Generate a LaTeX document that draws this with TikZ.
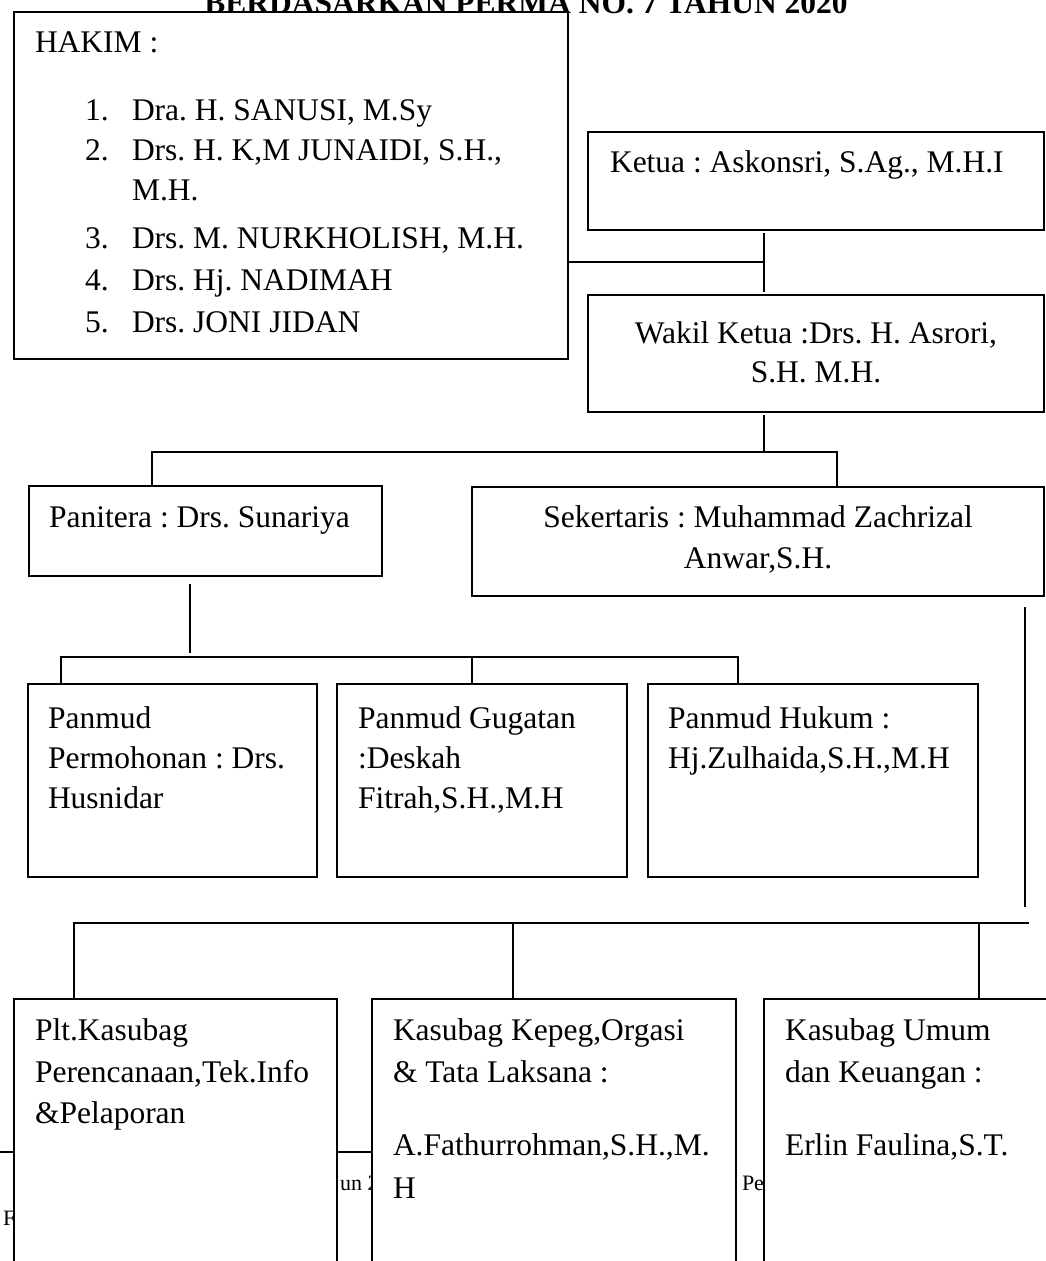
\documentclass[tikz,border=0pt]{standalone}
\usepackage{fontspec}
\setmainfont{Liberation Serif}
\frenchspacing
\newcommand\bodyfont{\fontsize{31.5}{38}\selectfont}
\newcommand\footfont{\fontsize{22}{26}\selectfont}
\begin{document}
\begin{tikzpicture}[x=1pt,y=-1pt,
  box/.style={draw, line width=1.6pt, fill=white, inner sep=0pt, outer sep=0pt, anchor=north west},
  conn/.style={line width=1.6pt},
  txt/.style={inner sep=0pt, outer sep=0pt, font=\bodyfont, anchor=base west},
  ctxt/.style={inner sep=0pt, outer sep=0pt, font=\bodyfont, anchor=base},
  foot/.style={inner sep=0pt, outer sep=0pt, font=\footfont, anchor=base west}]
\clip (0,0) rectangle (1046,1261);
\fill[white] (0,0) rectangle (1046,1261);
% title (partly cut off at the top, as in the reference)
\node[ctxt, font=\bodyfont\bfseries] (title) at (526,13) {BERDASARKAN PERMA NO. 7 TAHUN 2020};
% footer fragments behind the bottom boxes
\coordinate (fl1) at (0,1152);
\coordinate (fl2) at (420,1152);
\draw[line width=1.4pt] (fl1) -- (fl2);
\node[foot] (f1) at (340,1190) {un 2};
\node[foot] (f2) at (742,1190) {Pe};
\node[foot] (f3) at (3,1225) {F};
% boxes
\node[box, minimum width=554pt, minimum height=347pt] (hakim) at (14,12) {};
\node[box, minimum width=456pt, minimum height=98pt] (ketua) at (588,132) {};
\node[box, minimum width=456pt, minimum height=117pt] (wakil) at (588,295) {};
\node[box, minimum width=353pt, minimum height=90pt] (pan) at (29,486) {};
\node[box, minimum width=572pt, minimum height=109pt] (sek) at (472,487) {};
\node[box, minimum width=289pt, minimum height=193pt] (pm1) at (28,684) {};
\node[box, minimum width=290pt, minimum height=193pt] (pm2) at (337,684) {};
\node[box, minimum width=330pt, minimum height=193pt] (pm3) at (648,684) {};
\node[box, minimum width=323pt, minimum height=300pt] (b1) at (14,999) {};
\node[box, minimum width=364pt, minimum height=300pt] (b2) at (372,999) {};
\node[box, minimum width=320pt, minimum height=300pt] (b3) at (764,999) {};
% connectors
\coordinate (j1) at (764,262);
\draw[conn] (hakim.east |- j1) -- (j1);
\draw[conn, shorten <=3pt, shorten >=3pt] (ketua.south -| j1) -- (wakil.north -| j1);
\coordinate (j2) at (764,452);
\coordinate (c2a) at (152,452);
\coordinate (c2b) at (837,452);
\draw[conn, shorten <=3pt] (wakil.south -| j2) -- (j2);
\draw[conn] (pan.north -| c2a) -- (c2a) -- (c2b) -- (sek.north -| c2b);
\coordinate (c3) at (190,653);
\coordinate (c3a) at (61,657);
\coordinate (c3b) at (472,657);
\coordinate (c3c) at (738,657);
\draw[conn, shorten <=8pt] (pan.south -| c3) -- (c3);
\draw[conn] (pm1.north -| c3a) -- (c3a) -- (c3c) -- (pm3.north -| c3c);
\draw[conn] (c3b) -- (pm2.north -| c3b);
\coordinate (c4) at (1025,907);
\coordinate (c4a) at (74,923);
\coordinate (c4b) at (513,923);
\coordinate (c4c) at (979,923);
\coordinate (c4r) at (1029,923);
\draw[conn, shorten <=11pt] (sek.south -| c4) -- (c4);
\draw[conn] (b1.north -| c4a) -- (c4a) -- (c4r);
\draw[conn] (c4b) -- (b2.north -| c4b);
\draw[conn] (c4c) -- (b3.north -| c4c);
% texts: hakim
\node[txt] (h0) at (35,52) {HAKIM :};
\node[txt] (n1) at (85,120) {1.};
\node[txt] (h1) at (132,120) {Dra. H. SANUSI, M.Sy};
\node[txt] (n2) at (85,160) {2.};
\node[txt] (h2) at (132,160) {Drs. H. K,M JUNAIDI, S.H.,};
\node[txt] (h2b) at (132,200) {M.H.};
\node[txt] (n3) at (85,248) {3.};
\node[txt] (h3) at (132,248) {Drs. M. NURKHOLISH, M.H.};
\node[txt] (n4) at (85,290) {4.};
\node[txt] (h4) at (132,290) {Drs. Hj. NADIMAH};
\node[txt] (n5) at (85,332) {5.};
\node[txt] (h5) at (132,332) {Drs. JONI JIDAN};
% ketua, wakil
\node[txt] (tk) at (610,172) {Ketua : Askonsri, S.Ag., M.H.I};
\node[ctxt] (tw1) at (816,343) {Wakil Ketua :Drs. H. Asrori,};
\node[ctxt] (tw2) at (816,382) {S.H. M.H.};
% panitera, sekertaris
\node[txt] (tp) at (49,527) {Panitera : Drs. Sunariya};
\node[ctxt] (ts1) at (758,527) {Sekertaris : Muhammad Zachrizal};
\node[ctxt] (ts2) at (758,568) {Anwar,S.H.};
% panmud
\node[txt] (p11) at (48,728) {Panmud};
\node[txt] (p12) at (48,768) {Permohonan : Drs.};
\node[txt] (p13) at (48,808) {Husnidar};
\node[txt] (p21) at (358,728) {Panmud Gugatan};
\node[txt] (p22) at (358,768) {:Deskah};
\node[txt] (p23) at (358,808) {Fitrah,S.H.,M.H};
\node[txt] (p31) at (668,728) {Panmud Hukum :};
\node[txt] (p32) at (668,768) {Hj.Zulhaida,S.H.,M.H};
% bottom boxes
\node[txt] (k11) at (35,1040) {Plt.Kasubag};
\node[txt] (k12) at (35,1082) {Perencanaan,Tek.Info};
\node[txt] (k13) at (35,1123) {\&Pelaporan};
\node[txt] (k21) at (393,1040) {Kasubag Kepeg,Orgasi};
\node[txt] (k22) at (393,1082) {\& Tata Laksana :};
\node[txt] (k23) at (393,1155) {A.Fathurrohman,S.H.,M.};
\node[txt] (k24) at (393,1198) {H};
\node[txt] (k31) at (785,1040) {Kasubag Umum};
\node[txt] (k32) at (785,1082) {dan Keuangan :};
\node[txt] (k33) at (785,1155) {Erlin Faulina,S.T.};
\end{tikzpicture}
\end{document}
